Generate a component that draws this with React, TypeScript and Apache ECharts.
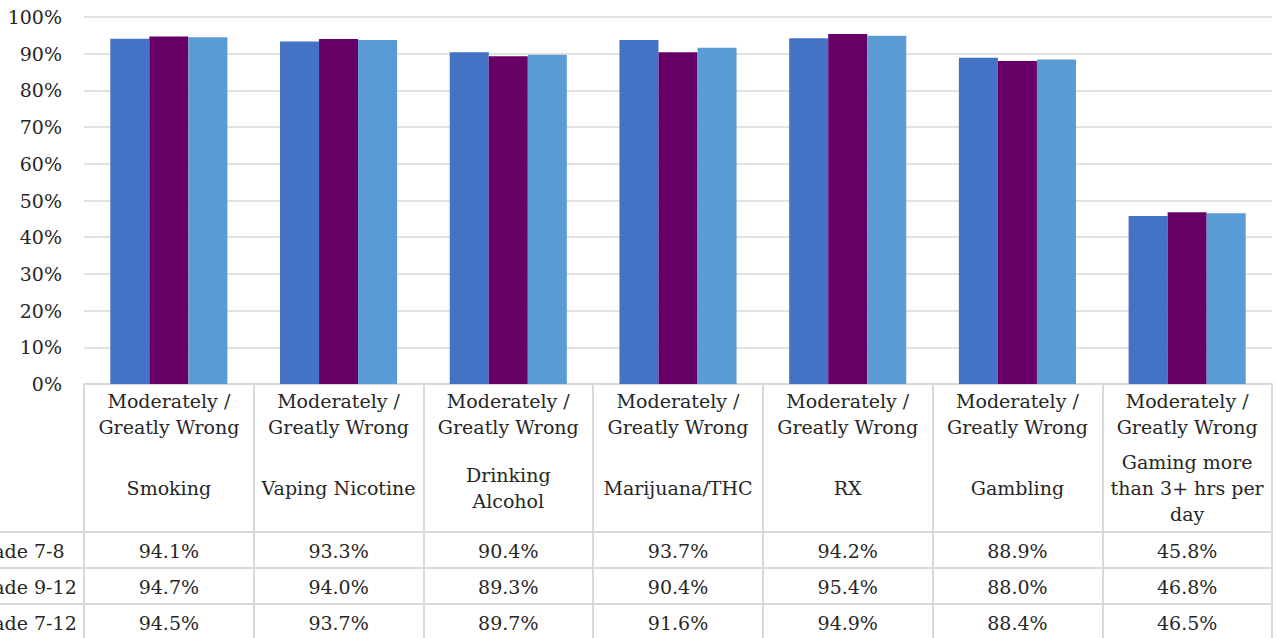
import React, { useEffect, useRef } from "react";
import * as echarts from "echarts";

const categories = [
  "Smoking",
  "Vaping Nicotine",
  "Drinking\nAlcohol",
  "Marijuana/THC",
  "RX",
  "Gambling",
  "Gaming more\nthan 3+ hrs per\nday",
];
const headerPrefix = "Moderately /\nGreatly Wrong";
const seriesNames = ["Grade\u00a07-8", "Grade\u00a09-12", "Grade\u00a07-12"];
const grade78 = [94.1, 93.3, 90.4, 93.7, 94.2, 88.9, 45.8];
const grade912 = [94.7, 94.0, 89.3, 90.4, 95.4, 88.0, 46.8];
const grade712 = [94.5, 93.7, 89.7, 91.6, 94.9, 88.4, 46.5];
const seriesData = [grade78, grade912, grade712];
const colors = ["#4472C4", "#660066", "#5B9BD5"];
const yTickLabels = ["0%", "10%", "20%", "30%", "40%", "50%", "60%", "70%", "80%", "90%", "100%"];

const FONT = "DejaVu Serif";
const FS = 19;
const TEXT = "#262626";
const LINE = "#d9d9d9";

export default function App() {
  const ref = useRef<HTMLDivElement>(null);
  useEffect(() => {
    document.body.style.margin = "0";
    const chart = echarts.init(ref.current!, null, { renderer: "svg" });
    chart.setOption({
      animation: false,
      textStyle: { fontFamily: FONT },
      grid: { left: 84, right: 5, top: 17, bottom: 254, containLabel: false },
      xAxis: {
        type: "category",
        data: categories,
        axisLine: { show: true, lineStyle: { color: LINE, width: 2 } },
        axisTick: { show: true, interval: 0, length: 260, lineStyle: { color: LINE, width: 2 } },
        axisLabel: {
          interval: 0,
          margin: 4,
          fontFamily: FONT,
          fontSize: FS,
          color: TEXT,
          lineHeight: 26,
          verticalAlign: "top",
          formatter: () => headerPrefix,
        },
      },
      yAxis: {
        type: "value",
        min: 0,
        max: 100,
        interval: 10,
        axisLine: { show: false },
        axisTick: { show: false },
        splitLine: { lineStyle: { color: LINE, width: 1.5 } },
        axisLabel: {
          margin: 22,
          fontFamily: FONT,
          fontSize: FS,
          color: TEXT,
          formatter: (v: number) => yTickLabels[Math.round(v / 10)],
        },
      },
      series: seriesData.map((d, i) => ({
        type: "bar",
        name: seriesNames[i],
        data: d,
        barGap: "0%",
        barCategoryGap: "31%",
        itemStyle: { color: colors[i] },
      })),
    });

    const x0 = chart.convertToPixel({ xAxisIndex: 0 }, 0) as number;
    const x1 = chart.convertToPixel({ xAxisIndex: 0 }, 1) as number;
    const colW = x1 - x0;
    const left = x0 - colW / 2;
    const right = left + colW * categories.length;
    const yBase = chart.convertToPixel({ yAxisIndex: 0 }, 0) as number;
    const headerH = 148;
    const rowH = 36;
    const graphics: any[] = [];
    const ts = (text: string, align: string) => ({
      text,
      font: `${FS}px ${FONT}`,
      fill: TEXT,
      align,
      verticalAlign: "middle",
      lineHeight: 26,
    });
    categories.forEach((c, i) => {
      const cx = chart.convertToPixel({ xAxisIndex: 0 }, i) as number;
      graphics.push({ type: "text", x: cx, y: yBase + 104, style: ts(c, "center") });
      seriesData.forEach((d, r) => {
        graphics.push({
          type: "text",
          x: cx,
          y: yBase + headerH + rowH * r + rowH / 2 + 1,
          style: ts(d[i].toFixed(1) + "%", "center"),
        });
      });
    });
    seriesNames.forEach((n, r) => {
      graphics.push({
        type: "text",
        x: -31,
        y: yBase + headerH + rowH * r + rowH / 2 + 1,
        style: ts(n, "left"),
      });
    });
    for (let r = 0; r < 4; r++) {
      const y = yBase + headerH + rowH * r;
      graphics.push({
        type: "line",
        shape: { x1: 0, y1: y, x2: right + 1, y2: y },
        style: { stroke: LINE, lineWidth: 2 },
      });
    }
    chart.setOption({ graphic: graphics });
    return () => chart.dispose();
  }, []);
  return <div ref={ref} style={{ width: 1277, height: 638 }} />;
}
